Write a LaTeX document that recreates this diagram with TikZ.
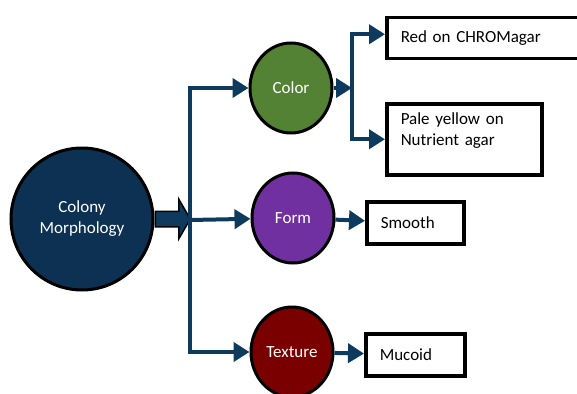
\documentclass[tikz,border=0pt]{standalone}
\usepackage{fontspec}
\setmainfont{Carlito}
\usetikzlibrary{arrows.meta,shapes.geometric,shapes.arrows}

\definecolor{linknavy}{HTML}{0E3A5E}
\definecolor{hubnavy}{HTML}{0C3152}
\definecolor{leaf}{HTML}{548235}
\definecolor{plum}{HTML}{7030A0}
\definecolor{wine}{HTML}{7A0000}

\begin{document}
\begin{tikzpicture}[
  x=1pt, y=-1pt,
  font=\fontsize{17}{21}\selectfont,
  flow/.style={draw=linknavy,line width=4pt,-{Triangle[length=16pt,width=19pt]}},
  trait/.style={draw=black,line width=3pt,ellipse,minimum width=82pt,minimum height=90pt,inner sep=0,text=white,align=center},
  result/.style={draw=black,line width=3.5pt,anchor=north west,align=left,inner xsep=14pt,inner ysep=0}
  ]

  \clip (0,0) rectangle (577,393);

  \node [draw=black,line width=3pt,circle,minimum size=142pt,fill=hubnavy,text=white,align=center] (morph) at (82,219) {Colony\\Morphology};
  \node [single arrow,draw=black,line width=1.5pt,fill=linknavy,anchor=tail,minimum height=35pt,inner xsep=0,inner ysep=7pt,single arrow head extend=12pt,single arrow tip angle=120] (fat) at (morph.east) {};
  \coordinate (hub) at (190,220);


  \node [trait,fill=leaf] (color) at (291,88) {Color};
  \node [trait,fill=plum] (form) at (293,218) {Form};
  \node [trait,fill=wine] (texture) at (292,352) {Texture};

  \draw[flow] (hub) |- (color);
  \draw[flow] (hub) -- (form);
  \draw[flow] (hub) |- (texture);


  \coordinate (split) at (352,88);
  \node [result,text width=187pt,minimum height=41pt] (red) at (385,16) {Red on CHROMagar};
  \node [result,text width=127pt,minimum height=71pt] (pale) at (385,102) {Pale yellow on\\Nutrient agar\\\mbox{}};
  \node [result,text width=69pt,minimum height=42pt] (smooth) at (365,200) {Smooth};
  \node [result,text width=71pt,minimum height=42pt] (mucoid) at (364,332) {Mucoid};

  \draw[flow] (color) -- (split);
  \draw[flow] (split) |- ([yshift=4pt]red.west);
  \draw[flow] (split) |- (pale.west);
  \draw[flow] (form) -- (smooth);
  \draw[flow] (texture) -- (mucoid);


\end{tikzpicture}
\end{document}
